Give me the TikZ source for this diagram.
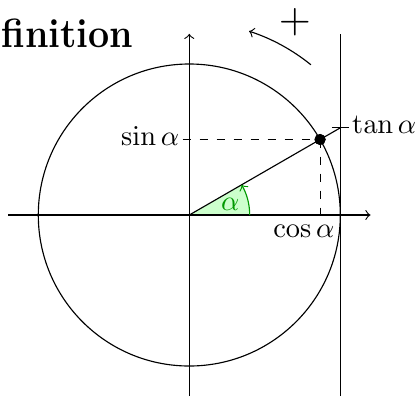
\documentclass[tikz,border=0pt]{standalone}
\begin{document}
\begin{tikzpicture}[x=53.17pt,y=53.17pt,
  lbl/.style={inner sep=1pt},
  angcol/.style={green!60!black},
  dotst/.style={circle,fill=black,inner sep=0pt,minimum size=3.9pt}]
\useasboundingbox (-1.2536,-1.2119) rectangle (1.5079,1.4238);
\coordinate (O) at (0,0);
\node[anchor=base west, inner sep=0pt] (title) at (-1.247,1.106) {\scalebox{0.92}[1]{\Large\bfseries finition}};
\draw (O) circle[radius=1];
\fill[green!20] (O) -- (0.4,0) arc[start angle=0,end angle=30,radius=0.4] -- cycle;
\coordinate (xl) at (-1.2,0);
\coordinate (xr) at (1.2,0);
\coordinate (yb) at (0,-1.2);
\coordinate (yt) at (0,1.2);
\coordinate (vb) at (1,-1.2);
\coordinate (vt) at (1,1.2);
\coordinate (T) at (1,0.57735);
\coordinate (A0) at (0.4,0);
\draw[->] (xl) -- (xr);
\draw[->] (yb) -- (yt);
\draw (vb) -- (vt);
\draw (O) -- (T);
\draw[angcol,->] (A0) arc[start angle=0,end angle=30,radius=0.4];
\node[text=green!60!black] (alpha) at (15:0.28) {$\alpha$};
\node[dotst] (P) at (30:1) {};
\node[lbl, anchor=mid east] (sinl) at (-0.045,0.5) {$\sin\alpha$};
\draw[dashed] (sinl.mid east) -- (P.center);
\node[lbl, anchor=north east] (cosl) at (0.983,-0.044) {$\cos\alpha$};
\draw[dashed] (P.center) -- (P |- cosl.north);
\node[dotst] at (P) {};
\draw (T) ++(-3pt,0) -- ++(6pt,0) node[lbl,anchor=mid west] (tanl) {$\tan\alpha$};
\coordinate (R0) at (51:1.28);
\draw[->] (R0) arc[start angle=51,end angle=72,radius=1.28];
\node[inner sep=0pt] (plus) at (0.70,1.28) {\scalebox{1.45}{$+$}};
\end{tikzpicture}
\end{document}
